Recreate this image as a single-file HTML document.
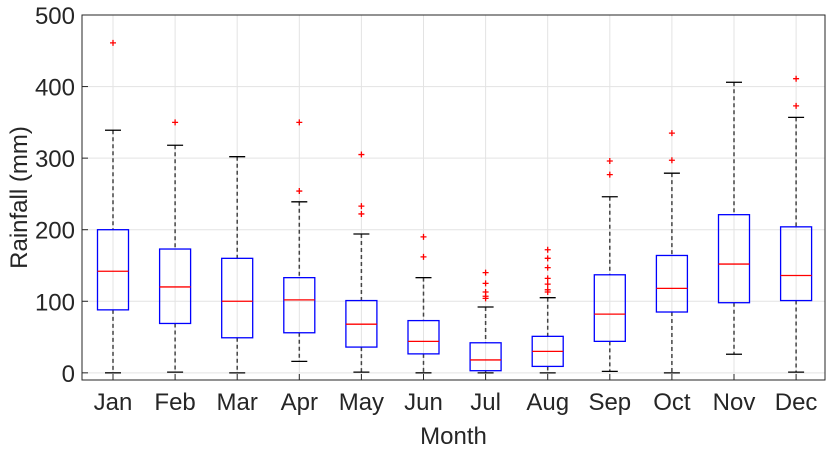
<!DOCTYPE html>
<html><head><meta charset="utf-8"><style>
body{margin:0;background:#fff;}
svg text{font-family:"Liberation Sans",Arial,sans-serif;fill:#262626;}
</style></head><body>
<svg id="chart" width="834" height="452" xmlns="http://www.w3.org/2000/svg">
<g id="grid"></g><g id="marks"></g><g id="axes"></g>
</svg>
<script>
const months=["Jan","Feb","Mar","Apr","May","Jun","Jul","Aug","Sep","Oct","Nov","Dec"];
const whiskerLow=[0,1,0,16,1,0,0,0,2,0,26,1];
const q1=[88,69,49,56,36,26.5,3,9,44,85,98,101];
const median=[142,120,100,102,68,44,18,30,82,118,152,136];
const q3=[200,173,160,133,101,73,42,51,137,164,221,204];
const whiskerHigh=[339,318,302,239,194,133,92,105,246,279,406,357];
const outliers=[[461],[350],[],[350,254],[305,233,222],[190,162],[140,125,113,107,104],[172,160,147,132,124,116,113],[296,277],[335,297],[],[411,373]];
const yTicks=[0,100,200,300,400,500];
const svg=document.getElementById('chart');
const NS="http://www.w3.org/2000/svg";
const L=82,R=825,T=15,B=380,yMin=-10,yMax=500;
const y=v=>B-(v-yMin)/(yMax-yMin)*(B-T);
const x=i=>113+i*62.1;
function mk(tag,attrs,parent){const e=document.createElementNS(NS,tag);for(const k in attrs)e.setAttribute(k,attrs[k]);parent.appendChild(e);return e;}
const grid=document.getElementById('grid'),marks=document.getElementById('marks'),axes=document.getElementById('axes');
yTicks.forEach(t=>{const g=mk('line',{x1:L,x2:R,y1:y(t),y2:y(t),stroke:'#e3e3e3','stroke-width':1},grid);


const lb=mk('text',{x:L-7,y:y(t)+9,'text-anchor':'end','font-size':24},axes);lb.textContent=t;


mk('line',{x1:L,x2:L+6,y1:y(t),y2:y(t),stroke:'#262626'},axes);});
months.forEach((m,i)=>{const cx=x(i);
const g=mk('line',{x1:cx,x2:cx,y1:T,y2:B,stroke:'#e3e3e3'},grid);


const grp=mk('g',{},marks);


mk('line',{x1:cx,x2:cx,y1:y(whiskerHigh[i]),y2:y(q3[i]),stroke:'#444','stroke-width':1.5,'stroke-dasharray':'4,3'},grp);
mk('line',{x1:cx,x2:cx,y1:y(q1[i]),y2:y(whiskerLow[i]),stroke:'#444','stroke-width':1.5,'stroke-dasharray':'4,3'},grp);
mk('line',{x1:cx-8,x2:cx+8,y1:y(whiskerHigh[i]),y2:y(whiskerHigh[i]),stroke:'#000','stroke-width':1.3},grp);
mk('line',{x1:cx-8,x2:cx+8,y1:y(whiskerLow[i]),y2:y(whiskerLow[i]),stroke:'#000','stroke-width':1.3},grp);
mk('rect',{x:cx-15.5,y:y(q3[i]),width:31,height:y(q1[i])-y(q3[i]),fill:'none',stroke:'#0000ff','stroke-width':1.3},grp);
mk('line',{x1:cx-15.5,x2:cx+15.5,y1:y(median[i]),y2:y(median[i]),stroke:'#ff0000','stroke-width':1.3},grp);
outliers[i].forEach(v=>{const o=mk('path',{d:`M${cx-3},${y(v)}h6M${cx},${y(v)-3}v6`,stroke:'#ff0000','stroke-width':1.3},grp);

});
mk('line',{x1:cx,x2:cx,y1:B,y2:B-6,stroke:'#262626'},axes);
const lb=mk('text',{x:cx,y:410,'text-anchor':'middle','font-size':24},axes);lb.textContent=m;

});
const fr=mk('rect',{x:L,y:T,width:R-L,height:B-T,fill:'none',stroke:'#262626','stroke-width':1},axes);


const xt=mk('text',{x:(L+R)/2,y:444,'text-anchor':'middle','font-size':24},axes);xt.textContent='Month';


const yt=mk('text',{x:0,y:0,'text-anchor':'middle','font-size':24,transform:`translate(27,${(T+B)/2}) rotate(-90)`},axes);yt.textContent='Rainfall (mm)';


</script>
</body></html>
